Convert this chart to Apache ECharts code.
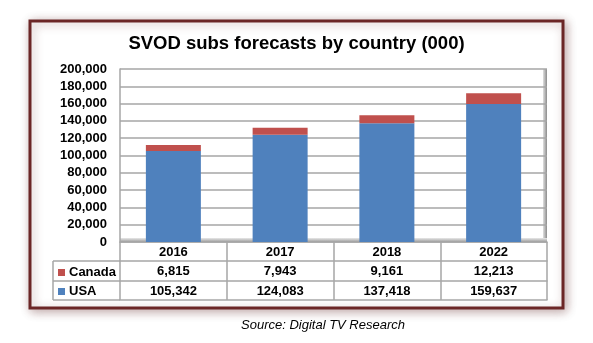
<!DOCTYPE html>
<html>
<head>
<meta charset="utf-8">
<script src="https://cdn.jsdelivr.net/npm/echarts@6/dist/echarts.min.js"></script>
<style>
html,body{margin:0;padding:0;background:#fff;}
#chart{width:593px;height:343px;}
</style>
</head>
<body>
<div id="chart"></div>
<script>
const years = ['2016', '2017', '2018', '2022'];
const canada = [6815, 7943, 9161, 12213];
const usa = [105342, 124083, 137418, 159637];
const seriesNames = ['Canada', 'USA'];
const titleText = 'SVOD subs forecasts by country (000)';
const sourceText = 'Source: Digital TV Research';

const fmt = v => Number(v).toLocaleString('en-US');
const FONT = 'Arial, "Liberation Sans", sans-serif';
const gridCol = '#a6a6a6';
const tableCol = '#a6a6a6';

const chart = echarts.init(document.getElementById('chart'), null, {renderer: 'canvas'});

const option = {
  animation: false,
  backgroundColor: '#fff',
  color: ['#4f81bd', '#c0504d'],
  title: {
    text: titleText,
    left: 'center',
    top: 29,
    textStyle: {fontFamily: FONT, fontWeight: 'bold', fontSize: 18.5, color: '#000'}
  },
  legend: {
    data: seriesNames,
    orient: 'vertical',
    left: 58,
    top: 266,
    padding: 0,
    itemWidth: 7,
    itemHeight: 7,
    itemGap: 6,
    icon: 'rect',
    textStyle: {fontFamily: FONT, fontWeight: 'bold', fontSize: 13, color: '#000', padding: [0, 0, 0, -1]}
  },
  grid: {left: 120, right: 46, top: 69, bottom: 101, containLabel: false},
  yAxis: {
    type: 'value',
    min: 0,
    max: 200000,
    interval: 20000,
    axisLine: {show: true, lineStyle: {color: gridCol, width: 1.5}},
    axisTick: {show: false},
    axisLabel: {formatter: v => fmt(v), fontFamily: FONT, fontWeight: 'bold', fontSize: 13, color: '#000', margin: 13},
    splitLine: {show: true, lineStyle: {color: gridCol, width: 1.5}}
  },
  xAxis: [
    {
      type: 'category',
      data: years,
      axisLine: {show: true, lineStyle: {color: gridCol, width: 1.5}},
      axisTick: {show: true, interval: 0, length: 58, lineStyle: {color: tableCol, width: 1.5}},
      axisLabel: {fontFamily: FONT, fontWeight: 'bold', fontSize: 13, color: '#000', margin: 4, interval: 0}
    },
    {
      type: 'category',
      data: canada,
      position: 'bottom',
      offset: 19,
      axisLine: {show: true, lineStyle: {color: tableCol, width: 1.5}},
      axisTick: {show: false},
      axisLabel: {formatter: v => fmt(v), fontFamily: FONT, fontWeight: 'bold', fontSize: 13, color: '#000', margin: 4, interval: 0}
    },
    {
      type: 'category',
      data: usa,
      position: 'bottom',
      offset: 39,
      axisLine: {show: true, lineStyle: {color: tableCol, width: 1.5}},
      axisTick: {show: false},
      axisLabel: {formatter: v => fmt(v), fontFamily: FONT, fontWeight: 'bold', fontSize: 13, color: '#000', margin: 4, interval: 0}
    },
    {
      type: 'category',
      data: years,
      position: 'bottom',
      offset: 58,
      axisLine: {show: true, lineStyle: {color: tableCol, width: 1.5}},
      axisTick: {show: false},
      axisLabel: {show: false}
    }
  ],
  series: [
    {name: 'USA', type: 'bar', stack: 'total', data: usa, barWidth: 55, xAxisIndex: 0, itemStyle: {color: '#4f81bd'}},
    {name: 'Canada', type: 'bar', stack: 'total', data: canada, barWidth: 55, xAxisIndex: 0, itemStyle: {color: '#c0504d'}}
  ],
  graphic: [
    {
      type: 'rect', z: -10, silent: true,
      shape: {x: 30, y: 21, width: 533, height: 287},
      style: {fill: '#fff', stroke: '#6b2626', lineWidth: 3, shadowBlur: 10, shadowOffsetX: 2, shadowOffsetY: 2, shadowColor: 'rgba(80,20,20,0.35)'}
    },
    {
      type: 'rect', z: -9, silent: true,
      shape: {x: 543, y: 69, width: 4, height: 173},
      style: {fill: new echarts.graphic.LinearGradient(0, 0, 1, 0, [{offset: 0, color: '#e0e0e0'}, {offset: 1, color: '#8c8c8c'}])}
    },
    {
      type: 'rect', z: -9, silent: true,
      shape: {x: 120, y: 238, width: 427, height: 4},
      style: {fill: new echarts.graphic.LinearGradient(0, 0, 0, 1, [{offset: 0, color: '#e8e8e8'}, {offset: 1, color: '#9a9a9a'}])}
    },
    {type: 'line', silent: true, shape: {x1: 53, y1: 261, x2: 120, y2: 261}, style: {stroke: tableCol, lineWidth: 1.5}},
    {type: 'line', silent: true, shape: {x1: 53, y1: 281, x2: 120, y2: 281}, style: {stroke: tableCol, lineWidth: 1.5}},
    {type: 'line', silent: true, shape: {x1: 53, y1: 300, x2: 120, y2: 300}, style: {stroke: tableCol, lineWidth: 1.5}},
    {type: 'line', silent: true, shape: {x1: 53, y1: 261, x2: 53, y2: 300}, style: {stroke: tableCol, lineWidth: 1.5}},
    {
      type: 'text', silent: true, left: 241, top: 319,
      style: {text: sourceText, font: 'italic 13px ' + FONT, fill: '#000'}
    }
  ]
};
chart.setOption(option);
</script>
</body>
</html>
